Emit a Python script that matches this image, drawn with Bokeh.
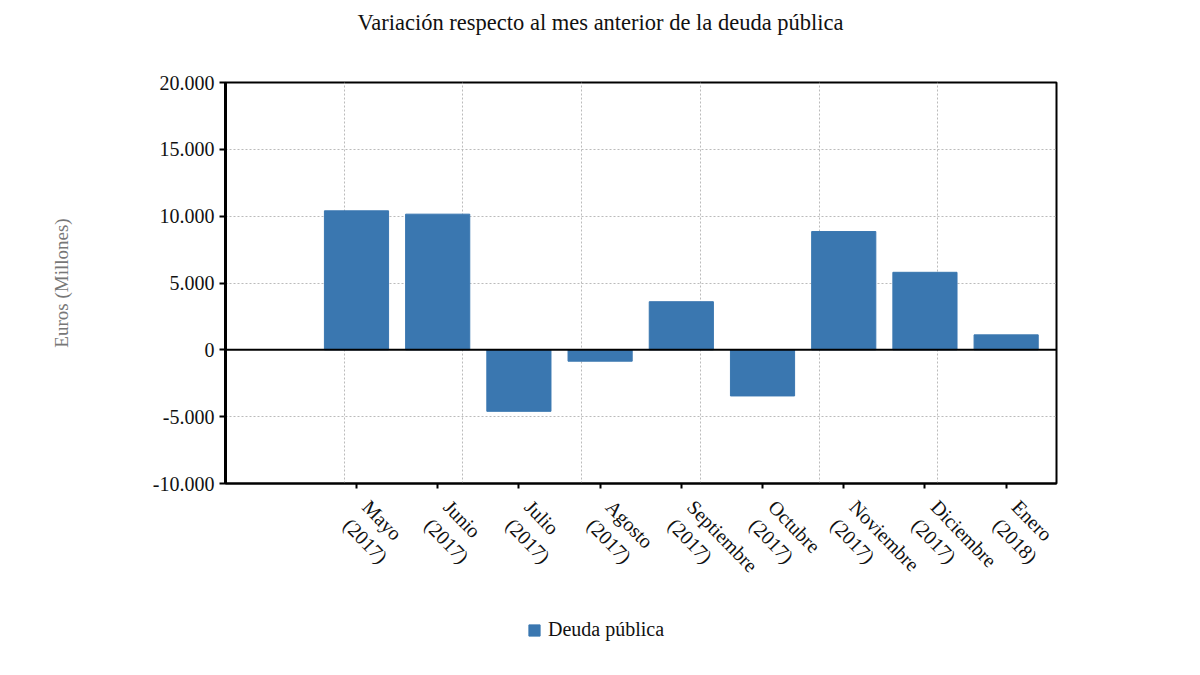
from bokeh.plotting import figure
from bokeh.layouts import column
from bokeh.models import (ColumnDataSource, Range1d, FixedTicker, Span, Legend,
                          LegendItem, Label)
from bokeh.embed import file_html
from bokeh.resources import INLINE

# Monthly change in public debt (millions of euros)
months = ["Mayo\n(2017)", "Junio\n(2017)", "Julio\n(2017)", "Agosto\n(2017)",
          "Septiembre\n(2017)", "Octubre\n(2017)", "Noviembre\n(2017)",
          "Diciembre\n(2017)", "Enero\n(2018)"]
deuda = [10400, 10150, -4600, -850, 3600, -3450, 8850, 5800, 1120]

y_ticks = [-10000, -5000, 0, 5000, 10000, 15000, 20000]
y_tick_labels = ["-10.000", "-5.000", "0", "5.000", "10.000", "15.000", "20.000"]

title_text = "Variación respecto al mes anterior de la deuda pública"

FONT = "Liberation Serif"
BAR = "#3a77b0"
LEFT, RIGHT = 225, 144   # side borders shared by all rows of the column

idx = list(range(len(months)))
src = ColumnDataSource(dict(x=idx, y=deuda))


def strip(height):
    """Blank row (page-pixel coordinates) for the heading and the legend."""
    f = figure(width=1200, height=height, output_backend="svg",
               toolbar_location=None, x_range=Range1d(LEFT, 1200 - RIGHT),
               y_range=Range1d(0, height), min_border_left=LEFT,
               min_border_right=RIGHT, min_border_top=0, min_border_bottom=0)
    f.axis.visible = False
    f.grid.visible = False
    f.outline_line_color = None
    return f


# heading
head = strip(67)
head.add_layout(Label(x=600, y=45, text=title_text, text_align="center",
                      text_baseline="middle", text_font=FONT,
                      text_font_size="22.5px", text_color="#111111"))

# main chart
x_start, x_end = -1.613, 8.62
p = figure(width=1200, height=548, output_backend="svg", toolbar_location=None,
           x_range=Range1d(x_start, x_end), y_range=Range1d(-10000, 20000),
           min_border_left=LEFT, min_border_right=RIGHT, min_border_top=15,
           min_border_bottom=132)

p.vbar(x="x", top="y", width=0.79, source=src, fill_color=BAR, line_color=BAR)

# zero line
p.add_layout(Span(location=0, dimension="width", line_color="black",
                  line_width=2))

# frame
p.outline_line_color = "black"
p.outline_line_width = 2
p.background_fill_color = "white"
p.border_fill_color = "white"

# grids
p.ygrid.ticker = FixedTicker(ticks=y_ticks)
p.ygrid.grid_line_color = "#bbbbbb"
p.ygrid.grid_line_dash = "2 2"
step = (x_end - x_start) / 7
p.xgrid.ticker = FixedTicker(ticks=[x_start + k * step for k in range(1, 7)])
p.xgrid.grid_line_color = "#bbbbbb"
p.xgrid.grid_line_dash = "2 2"

# y axis
ya = p.yaxis[0]
ya.ticker = FixedTicker(ticks=y_ticks)
ya.major_label_overrides = {t: l for t, l in zip(y_ticks, y_tick_labels)}
ya.major_label_text_font = FONT
ya.major_label_text_font_size = "20px"
ya.major_label_text_color = "#111111"
ya.major_tick_out = 6
ya.major_tick_in = 0
ya.major_tick_line_width = 2
ya.minor_tick_line_color = None
ya.axis_line_width = 3
ya.axis_label = "Euros (Millones)"
ya.axis_label_text_font = FONT
ya.axis_label_text_font_size = "19px"
ya.axis_label_text_font_style = "normal"
ya.axis_label_text_color = "#777777"
ya.axis_label_standoff = 78

# x axis
xa = p.xaxis[0]
xa.ticker = FixedTicker(ticks=idx)
xa.major_label_overrides = {i: m for i, m in zip(idx, months)}
xa.major_label_orientation = -0.8
xa.major_label_standoff = 24
xa.major_label_text_font = FONT
xa.major_label_text_font_size = "20px"
xa.major_label_text_color = "#111111"
xa.major_tick_out = 5
xa.major_tick_in = 0
xa.major_tick_line_width = 2
xa.minor_tick_line_color = None
xa.axis_line_width = 2

# legend row under the chart
leg = strip(60)
leg_r = leg.vbar(x="x", top="y", width=0.79, source=src, fill_color=BAR,
                 line_color=BAR, visible=False)
legend = Legend(items=[LegendItem(label="Deuda pública", renderers=[leg_r])],
                orientation="horizontal", location=(302, 34), padding=4,
                label_text_font=FONT, label_text_font_size="20px",
                label_text_color="#111111", glyph_width=14, glyph_height=14,
                label_standoff=7, border_line_color=None,
                background_fill_alpha=0, margin=0)
leg.add_layout(legend)

layout = column(head, p, leg, spacing=0)
open("out.html", "w").write(file_html(layout, INLINE))
